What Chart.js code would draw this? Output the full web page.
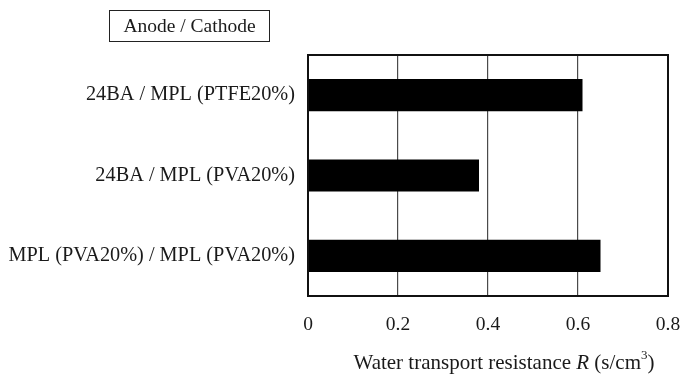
<!DOCTYPE html>
<html>
<head>
<meta charset="utf-8">
<script src="https://cdn.jsdelivr.net/npm/chart.js@4/dist/chart.umd.min.js"></script>
<style>
  html, body { margin: 0; padding: 0; background: #fff; overflow: hidden; }
  #wrap { width: 691px; height: 374px; position: relative; }
  canvas { display: block; }
</style>
</head>
<body>
<div id="wrap"><canvas id="grafico"></canvas></div>
<script>
const categorias = ["24BA / MPL (PTFE20%)", "24BA / MPL (PVA20%)", "MPL (PVA20%) / MPL (PVA20%)"];
const resistencia = [0.61, 0.38, 0.65];
const ticksX = [0, 0.2, 0.4, 0.6, 0.8];

const fonte = "'Liberation Serif', 'Times New Roman', serif";

// moldura do grafico + legenda + titulo do eixo
const extras = {
  id: "extras",
  afterDraw(c) {
    const ctx = c.ctx;
    const a = c.chartArea;
    ctx.save();
    ctx.strokeStyle = "#111";
    ctx.lineWidth = 2;
    ctx.strokeRect(a.left, a.top, a.right - a.left, a.bottom - a.top);

    // caixa "Anode / Cathode"
    ctx.lineWidth = 1;
    ctx.strokeStyle = "#222";
    ctx.strokeRect(109.5, 10.5, 160, 31);
    ctx.fillStyle = "#1a1a1a";
    ctx.font = "19.5px " + fonte;
    ctx.textAlign = "center";
    ctx.textBaseline = "middle";
    ctx.fillText("Anode / Cathode", 189.5, 26.5);

    // titulo eixo x com R em italico
    const partes = [
      ["Water transport resistance ", "21px", 0],
      ["R", "italic 21px", 0],
      [" (s/cm", "21px", 0],
      ["3", "13px", -7],
      [")", "21px", 0]
    ];
    ctx.textAlign = "left";
    let total = 0;
    partes.forEach(p => { ctx.font = p[1] + " " + fonte; total += ctx.measureText(p[0]).width; });
    let x = 504 - total / 2;
    const y = 363;
    partes.forEach(p => {
      ctx.font = p[1] + " " + fonte;
      ctx.fillText(p[0], x, y + p[2]);
      x += ctx.measureText(p[0]).width;
    });
    ctx.restore();
  }
};

const chart = new Chart(document.getElementById("grafico"), {
  type: "bar",
  data: {
    labels: categorias,
    datasets: [{
      data: resistencia,
      backgroundColor: "#000",
      borderWidth: 0,
      barPercentage: 0.4,
      categoryPercentage: 1
    }]
  },
  options: {
    indexAxis: "y",
    responsive: true,
    maintainAspectRatio: false,
    animation: false,
    layout: { padding: { left: 0, right: 23, top: 55, bottom: 0 } },
    plugins: {
      legend: { display: false },
      tooltip: { enabled: false },
      title: { display: false }
    },
    scales: {
      x: {
        min: 0,
        max: 0.8,
        afterBuildTicks: (s) => { s.ticks = ticksX.map(v => ({ value: v })); },
        afterFit: (s) => { s.height = 78; s.paddingLeft = 0; s.paddingRight = 0; },
        grid: { color: "#4a4a4a", lineWidth: 1.2, drawTicks: false },
        border: { display: false },
        ticks: {
          color: "#1a1a1a",
          padding: 17,
          font: { family: fonte, size: 19.5 },
          callback: (v) => String(v)
        }
      },
      y: {
        afterFit: (s) => { s.width = 308; s.paddingTop = 0; s.paddingBottom = 0; },
        grid: { display: false, drawTicks: false },
        border: { display: false },
        ticks: {
          color: "#1a1a1a",
          padding: 13,
          font: { family: fonte, size: 20.3 }
        }
      }
    }
  },
  plugins: [extras]
});
</script>
</body>
</html>
